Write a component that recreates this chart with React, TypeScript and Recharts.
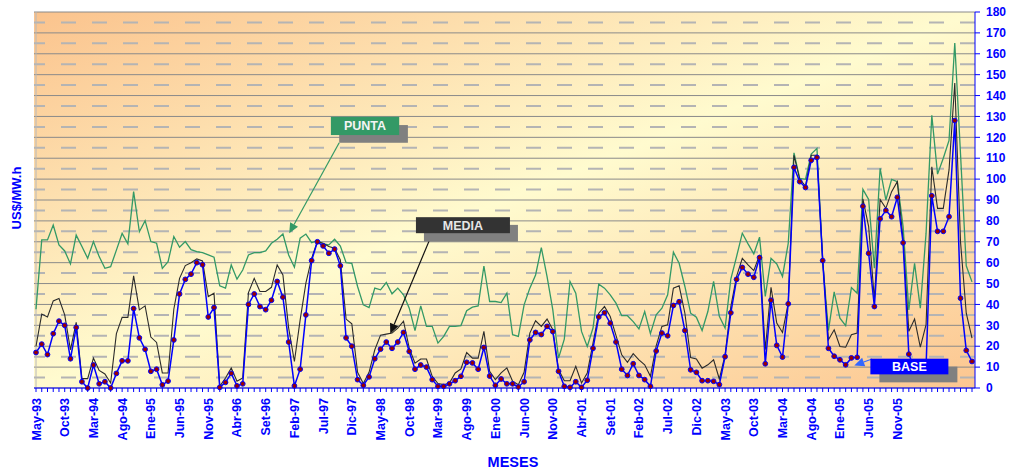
import { LineChart, Line, XAxis, YAxis, CartesianGrid, ReferenceLine } from 'recharts';

const FONT = "Arial, 'Liberation Sans', sans-serif";
const BLUE = '#0000FF';

// one label every 5 months, starting May-93
const tickLabels = ['May-93', 'Oct-93', 'Mar-94', 'Ago-94', 'Ene-95', 'Jun-95', 'Nov-95', 'Abr-96', 'Set-96', 'Feb-97', 'Jul-97', 'Dic-97', 'May-98', 'Oct-98', 'Mar-99', 'Ago-99', 'Ene-00', 'Jun-00', 'Nov-00', 'Abr-01', 'Set-01', 'Feb-02', 'Jul-02', 'Dic-02', 'May-03', 'Oct-03', 'Mar-04', 'Ago-04', 'Ene-05', 'Jun-05', 'Nov-05'];

// US$/MW.h, monthly from May-93
const punta = [
  37.7, 70.9, 70.9, 78, 68.5, 65.6, 59.4, 73.2, 67.7, 62.1, 70.1, 62.9, 57.3, 58.1, 66, 74, 69, 94, 74.8, 80.1,
  70.1, 69.3, 57.3, 60.5, 72.5, 67.4, 70.1, 66.2, 65.3, 64.8, 63.7, 62.6, 48.9, 47.8, 58.9, 52.1, 56.5, 63.7, 64.8, 64.8,
  65.6, 69.3, 71.2, 73.7, 63.7, 57.8, 71.7, 73.7, 69.6, 70.5, 69, 68.5, 71.2, 68, 60, 59.7, 48.6, 39.8, 38.5, 47.8,
  47, 50.5, 45.1, 47.8, 44.6, 38.2, 27.5, 39.3, 29.5, 29.5, 21.5, 24.7, 29.5, 29.5, 29.9, 37, 38.7, 39.3, 58.4, 41.4,
  41.4, 40.9, 45.4, 25.5, 24.7, 39.8, 47.8, 54.1, 67.2, 53.3, 37.4, 14.3, 23.4, 51, 45.4, 27.1, 19.9, 28.7, 49.7, 47.8,
  44.6, 40.6, 34.6, 34.6, 31.8, 28.3, 36.6, 26, 35, 38.2, 44.6, 65, 59.7, 48.6, 35.8, 33.9, 27.5, 36.6, 51, 34.3,
  28.7, 52.1, 62.9, 74.1, 69, 64.2, 72.2, 43.8, 62.1, 59.4, 53.4, 69.3, 112.6, 100.4, 99.9, 112, 114.7, 60.5, 27.5, 46,
  33.4, 29.8, 48.1, 45.4, 95.1, 90.3, 57.3, 105.2, 90, 99.9, 98.8, 77.3, 37.4, 59.7, 38.2, 74, 130.6, 102.4, 110, 118.5,
  165.2, 112, 58.5, 50.8,
];

const media = [
  20, 35.4, 34, 41.7, 42.8, 35, 18.3, 31.4, 4.5, 4.5, 14.3, 8.4, 6.7, 2.4, 26, 33.8, 33.8, 53.7, 37.4, 39.3,
  24.4, 21.8, 7.2, 7.2, 37.7, 52.5, 58.6, 60, 61.8, 60.8, 43.8, 45.4, 0.8, 4.8, 9.6, 3.2, 4.8, 45.7, 52.5, 46.2,
  46.2, 48.2, 58.9, 54.1, 28.7, 12.7, 32.6, 50.2, 62.1, 70.1, 69.3, 67.7, 66.9, 61.3, 33, 30.7, 7.5, 2.1, 7.5, 18.3,
  25.3, 25.8, 26.3, 28.7, 32, 19.1, 11.9, 13.9, 13.9, 5.6, 2.1, 1.6, 2.4, 7.2, 9.1, 17, 14.3, 14.3, 27.1, 8,
  4, 7.2, 9.6, 3.2, 1.6, 7.5, 26.3, 32.2, 29.5, 33, 27.9, 8.8, 3.5, 3.5, 10.4, 2.4, 7.2, 21.5, 35.8, 39,
  34.2, 25.2, 15.9, 12.3, 16.4, 13.5, 11.1, 5.6, 20.2, 29.5, 30.3, 47.8, 48.9, 35.8, 14.6, 13.9, 9.5, 11.1, 13.5, 4.3,
  15.9, 39, 53.4, 62.1, 58.9, 56.2, 63.7, 18.3, 48.2, 31.1, 26.6, 40.6, 111.4, 100, 96.7, 111.4, 111.4, 61.3, 23.1, 27.9,
  19.9, 19.5, 25.5, 26.3, 90.5, 77.3, 42.2, 90.3, 86, 94, 98.8, 70.9, 27.1, 33, 19.6, 30.3, 105.9, 86, 86, 104.4,
  146, 70, 35.8, 23.9,
];

const base = [
  17, 21, 16, 26, 32, 30, 14, 29, 3, 0, 11, 2, 3, 0, 7, 13, 13, 38, 24, 18.5,
  8, 9, 1.5, 3.3, 23, 45, 52, 54.5, 60, 59, 34, 38.5, 0.3, 2.7, 7, 1, 2, 40, 45, 39,
  37.5, 42, 51, 43.5, 22, 1, 9, 35, 61, 70, 68, 64.5, 66.5, 58.5, 24, 20, 4, 1.3, 5.3, 14,
  18.6, 22, 19, 22, 26.6, 17.5, 9, 11, 10, 4, 0.8, 0.8, 2, 3.5, 5.6, 12.3, 12, 9, 19.4, 5.7,
  1.3, 4.3, 2, 2, 0.5, 3, 23, 26.6, 25.6, 29.5, 27, 8, 0.8, 0.3, 3, 0.3, 3.7, 19, 34, 36,
  31, 22, 9, 6, 11.6, 6, 4, 0.8, 17.7, 26.3, 25, 39.5, 41.3, 27.5, 8.7, 7.5, 3.5, 3.5, 3.2, 1.6,
  15, 36, 52, 57.7, 54.5, 53, 62.4, 11.6, 42, 20.4, 14.8, 40.3, 105.6, 98.8, 96, 109, 110.4, 61, 19, 15.2,
  13.5, 11.1, 14.4, 14.7, 87, 64.5, 39, 81, 85, 82, 91.3, 69.5, 16.2, 9, 8, 10, 92, 75, 75, 82,
  128, 43, 18, 12.7,
];

const yTicks = [0, 10, 20, 30, 40, 50, 60, 70, 80, 90, 100, 110, 120, 130, 140, 150, 160, 170, 180];
const minorTicks = [5, 15, 25, 35, 45, 55, 65, 75, 85, 95, 105, 115, 125, 135, 145, 155, 165, 175];

const data = base.map((b, i) => ({ i, punta: punta[i], media: media[i], base: b }));
const monthTicks = data.map((d) => d.i);

const MARGIN = { top: 12, right: 0, bottom: 0, left: 34 };

function MonthTick(props: any) {
  const { x, y, payload } = props;
  const v = payload.value;
  if (v % 5 !== 0 || v / 5 >= tickLabels.length) return <g />;
  return (
    <text transform={`translate(${x},${y}) rotate(-90)`} textAnchor="end" dy="0.36em"
      fill={BLUE} fontSize={12.5} fontWeight="bold" fontFamily={FONT}>
      {tickLabels[v / 5]}
    </text>
  );
}

type Box = { dx: number; dy: number; w: number; h: number };

// box + shadow placed relative to the segment start, arrow to the segment end
function callout(label: string, box: Box, shadow: Box, fill: string, arrow: string, textColor: string) {
  return (p: any) => {
    const { x1, y1, x2, y2 } = p;
    const ang = Math.atan2(y2 - y1, x2 - x1);
    const L = 10, W = 4.5;
    const bx = x2 - L * Math.cos(ang), by = y2 - L * Math.sin(ang);
    const pts = [
      `${x2},${y2}`,
      `${bx - W * Math.sin(ang)},${by + W * Math.cos(ang)}`,
      `${bx + W * Math.sin(ang)},${by - W * Math.cos(ang)}`,
    ].join(' ');
    return (
      <g>
        <line x1={x1} y1={y1} x2={bx} y2={by} stroke={arrow} strokeWidth={1.2} />
        <polygon points={pts} fill={arrow} />
        <rect x={x1 + shadow.dx} y={y1 + shadow.dy} width={shadow.w} height={shadow.h} fill="#808080" />
        <rect x={x1 + box.dx} y={y1 + box.dy} width={box.w} height={box.h} fill={fill} />
        <text x={x1 + box.dx + box.w / 2} y={y1 + box.dy + box.h / 2} dy="0.36em" textAnchor="middle"
          fill={textColor} fontSize={12.5} fontWeight="bold" fontFamily={FONT}>{label}</text>
      </g>
    );
  };
}

export default function App() {
  return (
    <div style={{ position: 'absolute', left: 0, top: 0, width: 1010, height: 470, background: '#fff' }}>
      <div style={{ position: 'absolute', left: 34, top: 12, width: 941, height: 376, background: 'linear-gradient(to bottom right, #FBC38D 0%, #FFFBCF 50%, #FCC690 100%)' }} />
      <div style={{ position: 'absolute', left: 0, top: 0 }}>
        <LineChart width={1010} height={470} data={data} margin={MARGIN}>
          <CartesianGrid vertical={false} stroke="#8a8a8a" strokeWidth={1} />
          {minorTicks.map((t) => (
            <ReferenceLine key={t} y={t} stroke="#b4b4b4" strokeWidth={2} strokeDasharray="15 16" />
          ))}
          <ReferenceLine x={0} stroke="#b8b8b8" />
          <XAxis type="number" dataKey="i" domain={[0, 163]} ticks={monthTicks} interval={0} padding={{ left: 2, right: 3 }}
            height={82} tickSize={4} tickMargin={6} axisLine={{ stroke: BLUE }} tickLine={{ stroke: BLUE }} tick={<MonthTick />} />
          <YAxis orientation="right" domain={[0, 180]} ticks={yTicks} interval={0} width={35} tickSize={5} tickMargin={6}
            axisLine={{ stroke: BLUE }} tickLine={{ stroke: BLUE }}
            tick={{ fill: BLUE, fontSize: 12, fontWeight: 'bold', fontFamily: FONT }} />
          <Line type="linear" dataKey="punta" stroke="#339966" strokeWidth={1.3} dot={false} isAnimationActive={false} />
          <Line type="linear" dataKey="media" stroke="#2b2b2b" strokeWidth={1.1} dot={false} isAnimationActive={false} />
          <Line type="linear" dataKey="base" stroke={BLUE} strokeWidth={1.5} isAnimationActive={false}
            dot={{ r: 2.4, fill: '#990000', stroke: BLUE, strokeWidth: 1 }} />
        </LineChart>
      </div>
      {/* callouts on a twin chart laid over the first, same scales */}
      <div style={{ position: 'absolute', left: 0, top: 0, pointerEvents: 'none' }}>
        <LineChart width={1010} height={470} data={data} margin={MARGIN}>
          <XAxis type="number" dataKey="i" domain={[0, 163]} ticks={monthTicks} interval={0} padding={{ left: 2, right: 3 }}
            height={82} axisLine={false} tickLine={false} tick={false} />
          <YAxis orientation="right" domain={[0, 180]} ticks={yTicks} interval={0} width={35} axisLine={false} tickLine={false} tick={false} />
          <Line type="linear" dataKey="base" stroke="none" dot={false} isAnimationActive={false} />
          <ReferenceLine segment={[{ x: 52.8, y: 117.4 }, { x: 44.1, y: 74.1 }]}
            shape={callout('PUNTA', { dx: -8.3, dy: -26, w: 68.3, h: 18.3 }, { dx: 0, dy: -17.7, w: 68.7, h: 17.7 }, '#339966', '#339966', '#f4f4f4')} />
          <ReferenceLine segment={[{ x: 68.9, y: 73.3 }, { x: 61.7, y: 26 }]}
            shape={callout('MEDIA', { dx: -15.7, dy: -17.7, w: 94, h: 16 }, { dx: -7.7, dy: -10, w: 94, h: 16.7 }, '#333333', '#111111', '#e6e6e6')} />
          <ReferenceLine segment={[{ x: 145.6, y: 13.9 }, { x: 142.5, y: 10.8 }]}
            shape={callout('BASE', { dx: -1.7, dy: -0.3, w: 78, h: 15.7 }, { dx: 7.3, dy: 7.7, w: 78, h: 15.7 }, BLUE, '#3366FF', '#ffffff')} />
        </LineChart>
      </div>
      <svg width={1010} height={470} style={{ position: 'absolute', left: 0, top: 0, pointerEvents: 'none' }}>
        <text transform="translate(16,198) rotate(-90)" textAnchor="middle" dy="0.36em" fill={BLUE}
          fontSize={13} fontWeight="bold" fontFamily={FONT}>US$/MW.h</text>
        <text x={513} y={462} textAnchor="middle" dy="0.36em" fill={BLUE} fontSize={14.5} fontWeight="bold" fontFamily={FONT}>MESES</text>
      </svg>
    </div>
  );
}
